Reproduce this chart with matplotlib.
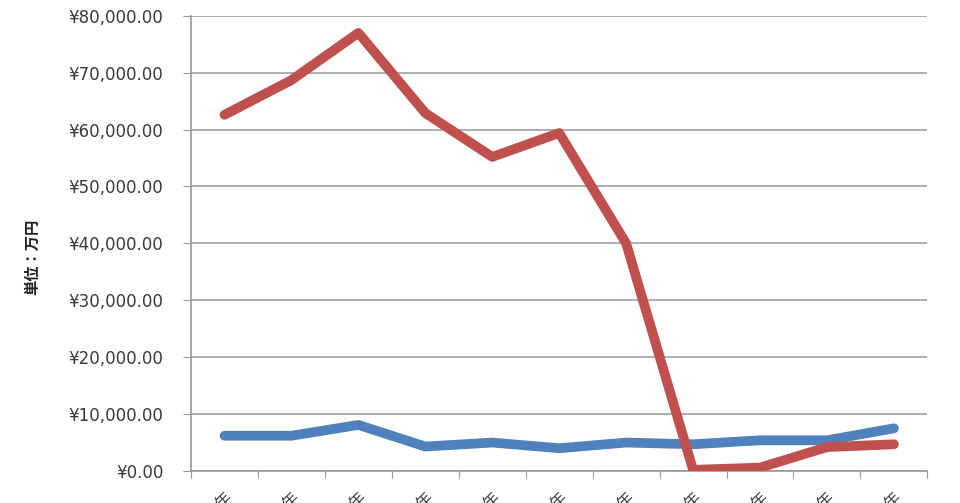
import numpy as np
import matplotlib.pyplot as plt
from matplotlib.ticker import FuncFormatter

plt.rcParams['font.family'] = ['DejaVu Sans', 'Noto Sans CJK JP']

# categories (labels are cut off at the bottom of the picture)
years = ['2000年', '2001年', '2002年', '2003年', '2004年', '2005年',
         '2006年', '2007年', '2008年', '2009年', '2010年']
# series values, 万円
red_vals = [62600, 68700, 77000, 62900, 55200, 59400, 40000, 200, 600, 4200, 4700]
blue_vals = [6200, 6200, 8100, 4300, 5000, 4000, 5000, 4700, 5400, 5400, 7500]

fig = plt.figure(figsize=(9.6, 5.03), dpi=100)
ax = fig.add_axes([0.199, 0.0636, 0.767, 0.905])

x = np.arange(len(years))
ax.plot(x, blue_vals, color='#4F81BD', lw=7, solid_capstyle='round', zorder=3)
ax.plot(x, red_vals, color='#C0504D', lw=7, solid_capstyle='round', zorder=4)

ax.set_xlim(-0.5, len(years) - 0.5)
ax.set_ylim(0, 80000)
ax.set_yticks(np.arange(0, 80001, 10000))
ax.yaxis.set_major_formatter(FuncFormatter(lambda v, p: '¥{:,.2f}'.format(v)))
ax.grid(axis='y', color='#999999', lw=1.1)
ax.set_axisbelow(True)

# x ticks at category boundaries, labels at centres
ax.set_xticks(np.arange(-0.5, len(years)), minor=False)
ax.set_xticklabels([])
ax.set_xticks(x, minor=True)
ax.set_xticklabels(years, minor=True, rotation=45, ha='right',
                   rotation_mode='anchor', fontsize=12, color='#444444',
                   family=['Noto Sans CJK JP', 'DejaVu Sans'])
ax.tick_params(axis='x', which='minor', length=0, pad=13)
ax.tick_params(axis='x', which='major', length=5, color='#999999')
ax.tick_params(axis='y', length=6, color='#999999', labelsize=12,
               labelcolor='#3a3a3a', pad=14)

for s in ['top', 'right']:
    ax.spines[s].set_visible(False)
ax.spines['left'].set_color('#999999')
ax.spines['bottom'].set_color('#999999')
ax.spines['left'].set_linewidth(1.2)
ax.spines['bottom'].set_linewidth(1.2)

fig.text(0.033, 0.49, '単位：万円', rotation=90, va='center', ha='center',
         fontsize=11, fontweight='bold', color='#222222',
         family=['Noto Sans CJK JP', 'DejaVu Sans'])

fig.savefig('out.png', dpi=100)
